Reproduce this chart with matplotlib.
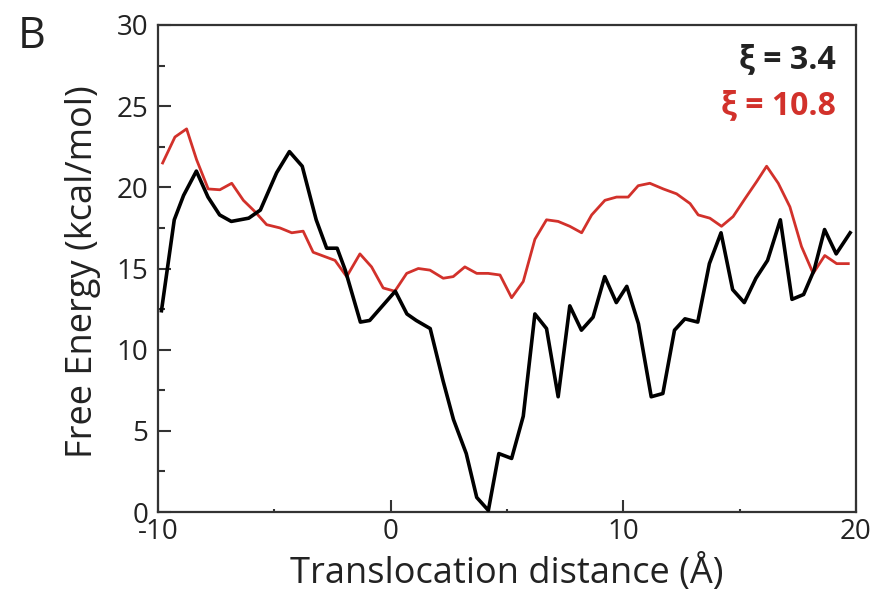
import matplotlib
matplotlib.use("Agg")
import matplotlib.pyplot as plt
from matplotlib.ticker import MultipleLocator

# xi = 3.4 (black)
x_black = [-9.85, -9.3, -8.9, -8.35, -7.85, -7.35, -6.85, -6.1, -5.6, -4.9,
           -4.35, -3.8, -3.2, -2.75, -2.3, -1.95, -1.3, -0.9, 0.2, 0.7,
           1.1, 1.7, 2.25, 2.7, 3.25, 3.7, 4.2, 4.65, 5.2, 5.7,
           6.2, 6.7, 7.2, 7.7, 8.2, 8.7, 9.2, 9.7, 10.15, 10.65,
           11.2, 11.7, 12.2, 12.65, 13.2, 13.7, 14.2, 14.7, 15.2, 15.7,
           16.2, 16.75, 17.25, 17.75, 18.2, 18.65, 19.15, 19.75]
y_black = [12.4, 18.0, 19.5, 21.0, 19.4, 18.3, 17.9, 18.1, 18.6, 20.9,
           22.2, 21.3, 18.0, 16.25, 16.25, 14.9, 11.7, 11.8, 13.6, 12.2,
           11.8, 11.3, 8.1, 5.7, 3.6, 0.9, 0.1, 3.6, 3.3, 5.9,
           12.2, 11.3, 7.1, 12.7, 11.2, 12.0, 14.5, 12.9, 13.9, 11.6,
           7.1, 7.3, 11.2, 11.9, 11.7, 15.3, 17.2, 13.7, 12.9, 14.4,
           15.5, 18.0, 13.1, 13.4, 14.9, 17.4, 15.9, 17.2]

# xi = 10.8 (red)
x_red = [-9.8, -9.27, -8.77, -8.34, -7.84, -7.34, -6.83, -6.33, -5.83, -5.33,
         -4.76, -4.25, -3.76, -3.33, -2.39, -1.89, -1.32, -0.82, -0.32, 0.18,
         0.69, 1.19, 1.69, 2.26, 2.69, 3.19, 3.7, 4.19, 4.7, 5.2,
         5.7, 6.2, 6.7, 7.2, 7.7, 8.21, 8.64, 9.21, 9.71, 10.21,
         10.64, 11.14, 11.72, 12.29, 12.87, 13.22, 13.72, 14.22, 14.72, 15.23,
         15.73, 16.16, 16.66, 17.16, 17.66, 18.16, 18.66, 19.17, 19.67]
y_red = [21.5, 23.1, 23.6, 21.7, 19.9, 19.85, 20.25, 19.2, 18.5, 17.7,
         17.5, 17.2, 17.3, 16.0, 15.5, 14.5, 15.9, 15.1, 13.8, 13.6,
         14.7, 15.0, 14.9, 14.4, 14.5, 15.1, 14.7, 14.7, 14.6, 13.2,
         14.2, 16.8, 18.0, 17.9, 17.6, 17.2, 18.3, 19.2, 19.4, 19.4,
         20.1, 20.25, 19.9, 19.6, 19.0, 18.3, 18.1, 17.6, 18.2, 19.3,
         20.35, 21.3, 20.25, 18.8, 16.35, 14.7, 15.8, 15.3, 15.3]

RED = "#d2312b"
plt.rcParams["font.family"] = ["Open Sans", "DejaVu Sans"]
plt.rcParams["axes.unicode_minus"] = False

fig = plt.figure(figsize=(8.86, 5.92), dpi=100)
ax = fig.add_axes([0.1783, 0.1351, 0.7878, 0.8227])

ax.plot(x_red, y_red, color=RED, lw=2.0, zorder=2)
ax.plot(x_black, y_black, color="black", lw=2.6, zorder=3)

ax.set_xlim(-10, 20)
ax.set_ylim(0, 30)
ax.xaxis.set_major_locator(MultipleLocator(10))
ax.xaxis.set_minor_locator(MultipleLocator(5))
ax.yaxis.set_major_locator(MultipleLocator(5))
ax.yaxis.set_minor_locator(MultipleLocator(2.5))
ax.tick_params(which="major", direction="in", length=9, width=1.5,
               labelsize=20, color="#333333", labelcolor="#222222")
ax.tick_params(axis="x", which="major", pad=4)
ax.tick_params(axis="y", which="major", pad=7)
ax.tick_params(which="minor", direction="in", length=5, width=1.5, color="#333333")
ax.tick_params(axis="x", which="minor", length=2)
for s in ax.spines.values():
    s.set_linewidth(1.6)
    s.set_color("#333333")

ax.set_xlabel("Translocation distance (Å)", fontsize=26, labelpad=6, color="#222222")
ax.set_ylabel("Free Energy (kcal/mol)", fontsize=26, color="#222222")
ax.yaxis.set_label_coords(-0.0817, 0.493)

ax.text(0.9715, 0.928, "ξ = 3.4", transform=ax.transAxes, ha="right", va="center",
        fontsize=23, fontweight="bold", color="#222222")
ax.text(0.9715, 0.834, "ξ = 10.8", transform=ax.transAxes, ha="right", va="center",
        fontsize=23, fontweight="bold", color=RED)

fig.text(0.036, 0.9375, "B", fontsize=31, ha="center", va="center", color="#222222")

fig.savefig("out.png", dpi=100)
